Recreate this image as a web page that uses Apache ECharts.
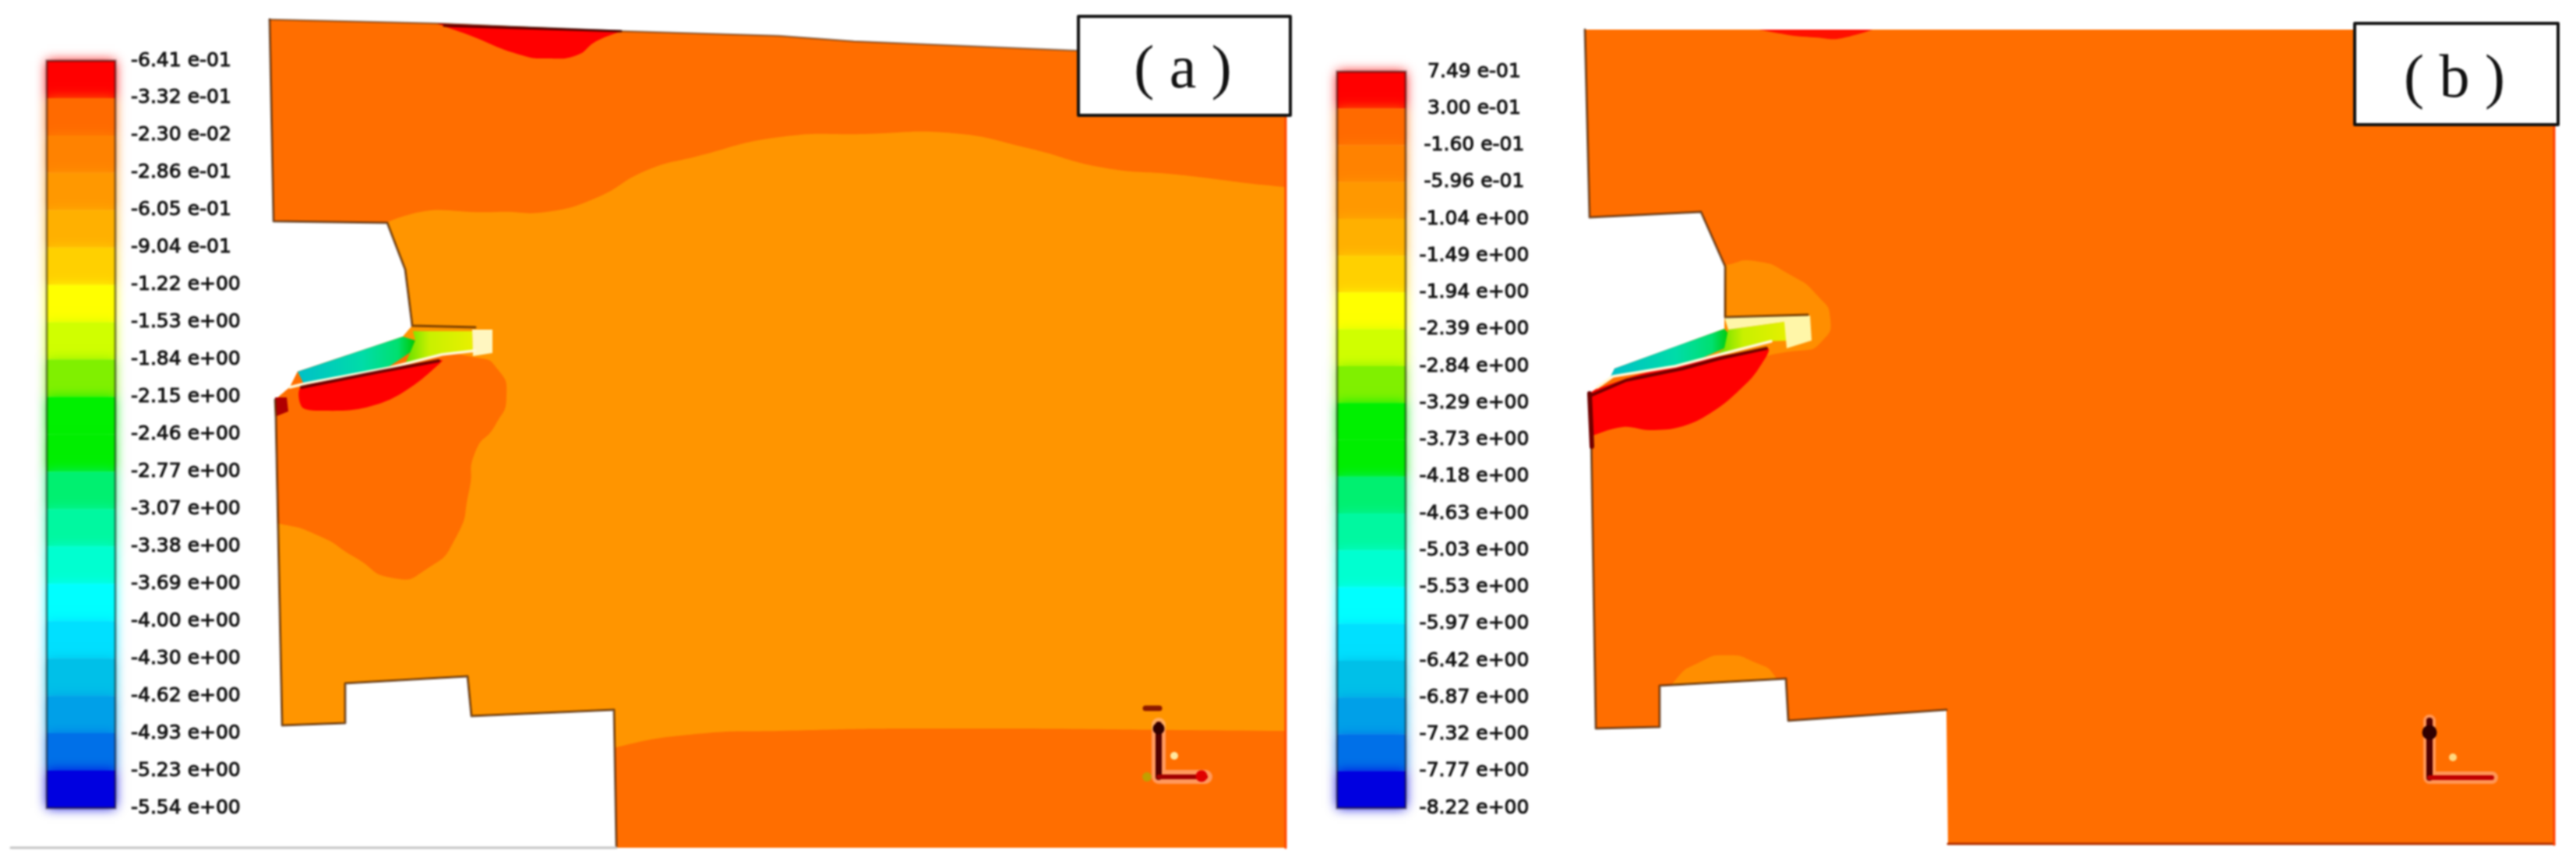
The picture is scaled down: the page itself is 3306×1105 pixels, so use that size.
<!DOCTYPE html>
<html>

<head>
  <meta charset="utf-8">
  <title>(a) (b)</title>
  <script src="https://cdn.jsdelivr.net/npm/echarts@6/dist/echarts.min.js"></script>
  <style>
    html, body { margin: 0; padding: 0; background: #fff; }
    #chart { width: 3306px; height: 1105px; filter: blur(1.1px); }
  </style>
</head>

<body>
  <div id="chart"></div>

  <script>
    // colour bar labels
    var labelsA = ['-6.41 e-01', '-3.32 e-01', '-2.30 e-02', '-2.86 e-01', '-6.05 e-01', '-9.04 e-01', '-1.22 e+00',
      '-1.53 e+00', '-1.84 e+00', '-2.15 e+00', '-2.46 e+00', '-2.77 e+00', '-3.07 e+00', '-3.38 e+00', '-3.69 e+00',
      '-4.00 e+00', '-4.30 e+00', '-4.62 e+00', '-4.93 e+00', '-5.23 e+00', '-5.54 e+00'];
    var labelsB = ['7.49 e-01', '3.00 e-01', '-1.60 e-01', '-5.96 e-01', '-1.04 e+00', '-1.49 e+00', '-1.94 e+00',
      '-2.39 e+00', '-2.84 e+00', '-3.29 e+00', '-3.73 e+00', '-4.18 e+00', '-4.63 e+00', '-5.03 e+00', '-5.53 e+00',
      '-5.97 e+00', '-6.42 e+00', '-6.87 e+00', '-7.32 e+00', '-7.77 e+00', '-8.22 e+00'];
    var bandColors = ['#ff0000', '#ff6a00', '#ff8200', '#ff9800', '#ffb000', '#ffd000', '#ffff00', '#d0ff00', '#80f000',
      '#00f000', '#00ee00', '#00f070', '#00f8a0', '#00ffd0', '#00ffff', '#00e0ff', '#00c0e8', '#00a0e8', '#0070e8', '#0000e0'];

    // panel (a) contours
    var outlineA = [[346, 25], [560, 30], [800, 40], [1000, 46], [1096, 53], [1376, 65], [1650, 70], [1650, 1088], [791, 1088],
      [788, 911], [605, 919], [600, 868], [443, 877], [443, 928], [362, 931], [354, 536], [353, 513], [372, 497], [382, 477],
      [517, 432], [529, 418], [520, 346], [497, 286], [351, 284]];
    var midA = [[300, 420], [440, 340], [510, 280], [638, 272], [701, 272], [765, 254], [829, 219], [893, 201], [1000, 176], [1110, 172], [1223, 171],
      [1319, 190], [1415, 215], [1510, 224], [1650, 240], [1750, 245], [1750, 938], [1650, 938], [1191, 935], [1000, 938], [893, 942],
      [791, 959], [650, 1000], [300, 1010]];
    var lobeA = [[300, 505], [500, 450], [612, 459], [638, 473], [650, 508], [636, 545], [610, 580], [602, 630], [585, 690],
      [548, 730], [505, 742], [455, 715], [410, 688], [358, 672], [300, 665]];
    var topRedA = [[560, 25], [612, 49], [670, 71], [702, 75], [740, 71], [765, 53], [810, 32]];
    var lowRedA = [[387, 497], [567, 462], [557, 473], [533, 493], [500, 513], [460, 525], [417, 527], [388, 523]];
    var cornerRedA = [[353, 510], [368, 510], [370, 528], [355, 534]];
    var bladeTealA = [[382, 477], [517, 432], [533, 437], [527, 452], [500, 470], [433, 487], [390, 493]];
    var bladeYellowA = [[530, 425], [606, 425], [607, 450], [560, 457], [520, 467], [533, 437]];
    var bladeTipA = [[606, 423], [632, 423], [632, 453], [607, 457]];
    var bladeLightA = [[372, 497], [393, 492], [500, 472], [567, 455], [610, 450]];
    var bladeDarkA = [[387, 497], [487, 477], [563, 463]];
    var wallA = [[346, 25], [351, 284], [497, 286], [520, 346], [529, 418], [610, 420]];
    var lowerWallA = [[353, 513], [354, 536], [362, 931], [443, 928], [443, 877], [600, 868], [605, 919], [788, 911], [791, 1086]];
    var topEdgeA = [[346, 25], [560, 30], [800, 40], [1000, 46], [1096, 53], [1384, 65]];
    var topDarkA = [[570, 33], [797, 40]];
    var bottomLineA = [[14, 1088], [791, 1088]];
    var rightEdgeA = [[1650, 150], [1650, 1088]];
    var triadA = [[1487, 930], [1487, 997], [1547, 997]];
    var triadCapA = [[1470, 909], [1488, 909]];

    // panel (b) contours
    var outlineB = [[2034, 38], [3278, 38], [3278, 1084], [2500, 1084], [2498, 911], [2295, 925], [2292, 871], [2130, 880], [2130, 933],
      [2048, 935], [2042, 557], [2040, 505], [2067, 485], [2072, 473], [2213, 422], [2214, 342], [2183, 272], [2040, 279]];
    var topRedB = [[2230, 30], [2290, 44], [2329, 48], [2364, 49], [2415, 30]];
    var lowRedB = [[2020, 512], [2267, 447], [2257, 473], [2233, 500], [2200, 527], [2160, 547], [2117, 552], [2083, 548], [2020, 560]];
    var bubbleB = [[2180, 345], [2214, 340], [2252, 335], [2298, 353], [2334, 381], [2349, 409], [2339, 437], [2310, 450], [2180, 450]];
    var lowBubbleB = [[2147, 890], [2150, 873], [2181, 850], [2216, 841], [2252, 850], [2278, 868], [2280, 890]];
    var bladeTealB = [[2072, 473], [2213, 422], [2220, 430], [2213, 447], [2167, 467], [2113, 477], [2067, 483]];
    var bladeYellowB = [[2218, 423], [2290, 413], [2300, 437], [2267, 438], [2203, 455], [2213, 447]];
    var bladeTipB = [[2213, 407], [2323, 405], [2325, 437], [2293, 447], [2290, 413], [2218, 423]];
    var bladeLightB = [[2050, 497], [2070, 483], [2150, 470], [2207, 455], [2273, 438]];
    var bladeDarkB = [[2043, 507], [2087, 488], [2160, 473], [2207, 460], [2267, 447]];
    var wallB = [[2034, 38], [2040, 279], [2183, 272], [2214, 342], [2214, 407], [2320, 404]];
    var lowerWallB = [[2040, 505], [2042, 557], [2048, 935], [2130, 933], [2130, 880], [2292, 871], [2295, 925], [2498, 911]];
    var cornerDarkB = [[2040, 505], [2043, 573]];
    var bottomEdgeB = [[2500, 1083], [3278, 1083]];
    var rightEdgeB = [[3278, 160], [3278, 1084]];
    var triadB = [[3118, 925], [3118, 998], [3198, 998]];

    // tags
    var tagBoxA = [[1384, 21], [1656, 21], [1656, 148], [1384, 148]];
    var tagBoxB = [[3022, 30], [3283, 30], [3283, 160], [3022, 160]];

    var orangeDark = '#ff6e00';
    var orangeMid = '#ff9500';
    var panelA = 0, panelB = 1;

    function points(pts, api) {
      return pts.map(function (p) { return api.coord(p); });
    }

    function poly(pts, fill, panel, smooth, clipTo) {
      return {
        type: 'custom', xAxisIndex: panel, yAxisIndex: panel, data: pts, silent: true, clip: false,
        renderItem: function (params, api) {
          if (params.dataIndex != 0) return null;
          var el = {
            type: 'polygon',
            shape: { points: points(pts, api), smooth: smooth || 0 },
            style: { fill: fill }
          };
          if (clipTo) el.clipPath = { type: 'polygon', shape: { points: points(clipTo, api) } };
          return el;
        }
      };
    }

    function stroke(pts, color, width, panel) {
      return {
        type: 'custom', xAxisIndex: panel, yAxisIndex: panel, data: pts, silent: true, clip: false,
        renderItem: function (params, api) {
          if (params.dataIndex != 0) return null;
          return {
            type: 'polyline',
            shape: { points: points(pts, api) },
            style: { fill: null, stroke: color, lineWidth: width, lineJoin: 'round', lineCap: 'round' }
          };
        }
      };
    }

    function dots(pts, color, size, panel) {
      return {
        type: 'scatter', xAxisIndex: panel, yAxisIndex: panel, data: pts, silent: true,
        symbolSize: size, itemStyle: { color: color, opacity: 1 }
      };
    }

    function tag(pts, text, x, y, panel) {
      return {
        type: 'custom', xAxisIndex: panel, yAxisIndex: panel, data: pts, silent: true, clip: false,
        renderItem: function (params, api) {
          if (params.dataIndex != 0) return null;
          var c = api.coord([x, y]);
          return {
            type: 'group',
            children: [
              { type: 'polygon', shape: { points: points(pts, api) },
                style: { fill: '#fff', stroke: '#111', lineWidth: 4, lineJoin: 'round' } },
              { type: 'text', x: c[0], y: c[1],
                style: { text: text, fill: '#111', font: '78px "Liberation Serif"', textAlign: 'center', textVerticalAlign: 'middle' } }
            ]
          };
        }
      };
    }

    function colorBar(panel) {
      var rows = bandColors.map(function (c, i) { return [0, i]; });
      return [{
        type: 'custom', xAxisIndex: panel, yAxisIndex: panel, data: rows, silent: true, clip: false,
        renderItem: function (params, api) {
          var a = api.coord([0, api.value(1)]);
          var b = api.coord([1, api.value(1) + 1]);
          var col = bandColors[params.dataIndex];
          return {
            type: 'rect',
            shape: { x: a[0], y: a[1], width: b[0] - a[0], height: b[1] - a[1] },
            style: { fill: col, shadowBlur: 14, shadowColor: col }
          };
        }
      }, {
        type: 'custom', xAxisIndex: panel, yAxisIndex: panel, data: [[0, 0]], silent: true, clip: false,
        renderItem: function (params, api) {
          var a = api.coord([0, 0]);
          var b = api.coord([1, 20]);
          return {
            type: 'rect',
            shape: { x: a[0], y: a[1], width: b[0] - a[0], height: b[1] - a[1] },
            style: { fill: null, stroke: 'rgba(30,20,20,0.5)', lineWidth: 3 }
          };
        }
      }];
    }

    function gradTeal() {
      return new echarts.graphic.LinearGradient(0, 0, 1, 0, [
        { offset: 0, color: '#00c0c8' },
        { offset: 0.55, color: '#00dca8' },
        { offset: 0.85, color: '#00e070' },
        { offset: 1, color: '#00c800' }
      ]);
    }

    function gradYellow() {
      return new echarts.graphic.LinearGradient(0, 0, 1, 0, [
        { offset: 0, color: '#60e000' },
        { offset: 0.35, color: '#c8f000' },
        { offset: 1, color: '#e8f000' }
      ]);
    }

    var dark = 'rgba(70,30,0,0.7)';

    var series = [].concat(
      // panel (a)
      poly(outlineA, orangeDark, panelA),
      poly(midA, orangeMid, panelA, 0.5, outlineA),
      poly(lobeA, orangeDark, panelA, 0.6, outlineA),
      poly(topRedA, '#ff0000', panelA, 0.5, outlineA),
      poly(lowRedA, '#ff0000', panelA, 0.3),
      poly(cornerRedA, '#b00000', panelA),
      poly(bladeTealA, gradTeal(), panelA),
      poly(bladeYellowA, gradYellow(), panelA),
      poly(bladeTipA, '#fff6c0', panelA),
      stroke(bladeLightA, '#fff8d8', 3.5, panelA),
      stroke(bladeDarkA, 'rgba(90,0,0,0.85)', 4, panelA),
      stroke(wallA, dark, 3, panelA),
      stroke(lowerWallA, dark, 3, panelA),
      stroke(topEdgeA, 'rgba(70,30,0,0.5)', 2.5, panelA),
      stroke(topDarkA, 'rgba(60,0,0,0.8)', 3, panelA),
      stroke(bottomLineA, '#c4c4c4', 3, panelA),
      stroke(rightEdgeA, '#ff4800', 3, panelA),
      stroke(triadA, 'rgba(255,190,170,0.55)', 18, panelA),
      stroke(triadA.slice(0, 2), '#500000', 8, panelA),
      stroke(triadA.slice(1), '#a00000', 6, panelA),
      stroke(triadCapA, '#8a1800', 7, panelA),
      dots([[1487, 935]], '#300000', 15, panelA),
      dots([[1542, 996]], '#e00000', 15, panelA),
      dots([[1507, 970]], '#ffe8a0', 10, panelA),
      dots([[1472, 997]], '#c0a000', 12, panelA),
      tag(tagBoxA, '( a )', 1518, 92, panelA),

      // panel (b)
      poly(outlineB, orangeDark, panelB),
      poly(bubbleB, '#ff8e00', panelB, 0.6, outlineB),
      poly(lowBubbleB, '#ff8e00', panelB, 0.6, outlineB),
      poly(topRedB, '#ff1000', panelB, 0.4, outlineB),
      poly(lowRedB, '#ff0000', panelB, 0.4, outlineB),
      poly(bladeTealB, gradTeal(), panelB),
      poly(bladeYellowB, gradYellow(), panelB),
      poly(bladeTipB, '#fff6a8', panelB),
      stroke(bladeLightB, '#fff8d8', 3.5, panelB),
      stroke(bladeDarkB, 'rgba(90,0,0,0.85)', 4, panelB),
      stroke(wallB, dark, 3, panelB),
      stroke(lowerWallB, dark, 3, panelB),
      stroke(cornerDarkB, '#700000', 6, panelB),
      stroke(bottomEdgeB, '#b03000', 3, panelB),
      stroke(rightEdgeB, '#ff4000', 3, panelB),
      stroke(triadB, 'rgba(255,190,170,0.5)', 16, panelB),
      stroke(triadB.slice(0, 2), '#500000', 8, panelB),
      stroke(triadB.slice(1), '#c00000', 6, panelB),
      dots([[3118, 940]], '#300000', 19, panelB),
      dots([[3148, 972]], '#ffd880', 10, panelB),
      tag(tagBoxB, '( b )', 3150, 104, panelB),

      // colour bars
      colorBar(2),
      colorBar(3)
    );

    var plain = { show: false };

    function plotX(min, max, idx) {
      return { type: 'value', gridIndex: idx, min: min, max: max, show: false };
    }

    function plotY(idx) {
      return { type: 'value', gridIndex: idx, min: 0, max: 1105, inverse: true, show: false };
    }

    function barX(idx) {
      return { type: 'value', gridIndex: idx, min: 0, max: 1, show: false };
    }

    function barY(idx, labels, align, margin) {
      return {
        type: 'value', gridIndex: idx, min: 0, max: 20, interval: 1, inverse: true, position: 'right',
        axisLine: plain, axisTick: plain, splitLine: plain,
        axisLabel: {
          show: true, align: align, margin: margin, color: '#111', fontFamily: 'DejaVu Sans', fontSize: 25,
          textBorderColor: '#111', textBorderWidth: 1,
          formatter: function (v) { return labels[v]; }
        }
      };
    }

    var chart = echarts.init(document.getElementById('chart'));
    chart.setOption({
      animation: false,
      backgroundColor: '#fff',
      grid: [
        { left: 0, top: 0, width: 1660, height: 1105 },
        { left: 1660, top: 0, width: 1646, height: 1105 },
        { left: 60, top: 78, width: 88, height: 959 },
        { left: 1716, top: 92, width: 88, height: 945 }
      ],
      xAxis: [plotX(0, 1660, 0), plotX(1660, 3306, 1), barX(2), barX(3)],
      yAxis: [plotY(0), plotY(1), barY(2, labelsA, 'left', 20), barY(3, labelsB, 'center', 88)],
      series: series
    });
  </script>
</body>

</html>
